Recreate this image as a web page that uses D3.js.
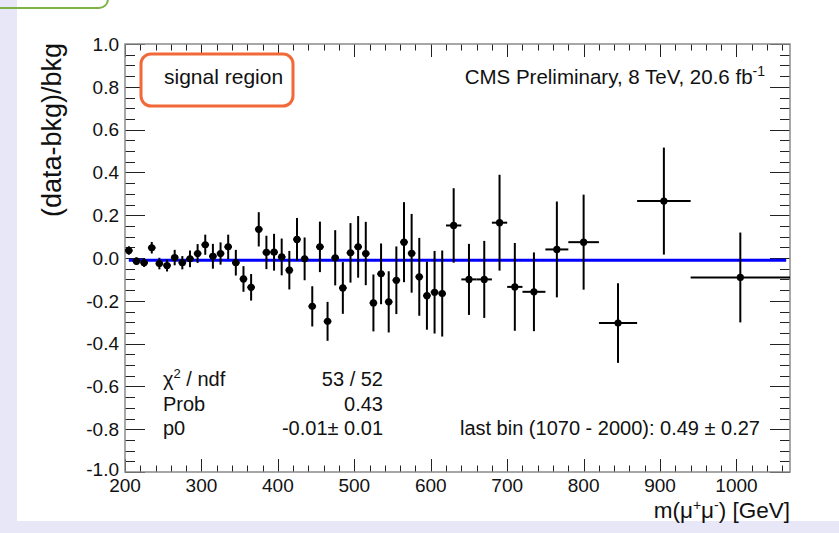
<!DOCTYPE html>
<html>
<head>
<meta charset="utf-8">
<script src="https://cdn.jsdelivr.net/npm/d3@7/dist/d3.min.js"></script>
<style>
  html, body { margin: 0; padding: 0; background: #fff; }
  svg { display: block; font-family: "Liberation Sans", Arial, Helvetica, sans-serif; }
</style>
</head>
<body>
<svg id="chart" width="839" height="533"></svg>
<script>
// ---- data ----
const binLow  = [200,210,220,230,240,250,260,270,280,290,300,310,320,330,340,350,360,370,380,390,
                 400,410,420,430,440,450,460,470,480,490,500,510,520,530,540,550,560,570,580,590,
                 600,610,620,640,660,680,700,720,750,780,820,870,940];
const binHigh = [210,220,230,240,250,260,270,280,290,300,310,320,330,340,350,360,370,380,390,400,
                 410,420,430,440,450,460,470,480,490,500,510,520,530,540,550,560,570,580,590,600,
                 610,620,640,660,680,700,720,750,780,820,870,940,1070];
const ratio   = [0.035,-0.015,-0.022,0.048,-0.026,-0.035,0.002,-0.022,-0.004,0.021,
                 0.062,0.008,0.021,0.052,-0.022,-0.098,-0.137,0.134,0.026,0.027,
                 0.005,-0.057,0.087,-0.004,-0.226,0.052,-0.296,0.001,-0.14,0.024,
                 0.052,0.021,-0.21,-0.074,-0.205,-0.104,0.074,0.022,-0.088,-0.176,
                 -0.16,-0.166,0.152,-0.10,-0.10,0.165,-0.135,-0.158,0.04,0.074,
                 -0.304,0.266,-0.091];
const ratioErr= [0.02,0.018,0.02,0.027,0.027,0.028,0.036,0.031,0.039,0.044,
                 0.047,0.058,0.052,0.057,0.06,0.06,0.062,0.08,0.078,0.086,
                 0.086,0.09,0.10,0.10,0.094,0.118,0.091,0.129,0.121,0.139,
                 0.144,0.148,0.133,0.142,0.143,0.158,0.187,0.184,0.182,0.159,
                 0.193,0.201,0.174,0.166,0.18,0.224,0.205,0.184,0.224,0.222,
                 0.186,0.25,0.21];
const fitP0 = -0.01;
const fitRange = [205, 1065];
const xMajorTicks = [200,300,400,500,600,700,800,900,1000];
const yMajorTicks = [1.0,0.8,0.6,0.4,0.2,0.0,-0.2,-0.4,-0.6,-0.8,-1.0];
const statNames  = ["χ² / ndf", "Prob", "p0"];
const statValues = ["53 / 52", "0.43", "-0.01± 0.01"];

// ---- layout ----
const svg = d3.select("#chart");
const L = 125, R = 790, T = 44, B = 472;
const x = d3.scaleLinear().domain([200, 1070]).range([L, R]);
const y = d3.scaleLinear().domain([-1, 1]).range([B, T]);

// slide decorations
svg.append("rect").attr("x",0).attr("y",0).attr("width",839).attr("height",533).attr("fill","#e7e7f8");
svg.append("rect").attr("x",17).attr("y",0).attr("width",822).attr("height",521).attr("fill","#ffffff");
svg.append("rect").attr("x",-20).attr("y",-20).attr("width",128).attr("height",28).attr("rx",9)
   .attr("fill","none").attr("stroke","#7cb342").attr("stroke-width",2);

// ticks
const g = svg.append("g");
const tickCol = "#222";
const yMinor = d3.range(-1, 1.0001, 0.05);
yMinor.forEach(v => {
  const major = Math.abs(Math.round(v*5) - v*5) < 1e-6;
  const len = major ? 20 : 10;
  const yy = Math.round(y(v)) + 0.5;
  g.append("line").attr("x1",L).attr("x2",L+len).attr("y1",yy).attr("y2",yy).attr("stroke",tickCol).attr("stroke-width",1);
  g.append("line").attr("x1",R).attr("x2",R-len).attr("y1",yy).attr("y2",yy).attr("stroke",tickCol).attr("stroke-width",1);
});
const xMinor = d3.range(200, 1071, 20);
xMinor.forEach(v => {
  const major = v % 100 === 0;
  const len = major ? 13 : 6.5;
  const xx = Math.round(x(v)) + 0.5;
  g.append("line").attr("x1",xx).attr("x2",xx).attr("y1",B).attr("y2",B-len).attr("stroke",tickCol).attr("stroke-width",1);
  g.append("line").attr("x1",xx).attr("x2",xx).attr("y1",T).attr("y2",T+len).attr("stroke",tickCol).attr("stroke-width",1);
});

// frame
svg.append("rect").attr("x",L).attr("y",T).attr("width",R-L).attr("height",B-T)
   .attr("fill","none").attr("stroke","#8a8a8a").attr("stroke-width",1.5);

// tick labels
yMajorTicks.forEach(v => {
  svg.append("text").attr("x",119).attr("y",y(v) - (v === -1 ? 3 : 0)).attr("dy","0.36em")
     .attr("text-anchor","end").attr("font-size",19).attr("fill","#111")
     .text(v.toFixed(1));
});
xMajorTicks.forEach(v => {
  svg.append("text").attr("x",x(v)).attr("y",492)
     .attr("text-anchor","middle").attr("font-size",19).attr("fill","#111")
     .text(v);
});

// axis titles
svg.append("text").attr("transform","translate(61,43) rotate(-90)")
   .attr("text-anchor","end").attr("font-size",27).attr("fill","#111")
   .text("(data-bkg)/bkg");
const xt = svg.append("text").attr("x",R).attr("y",518).attr("text-anchor","end")
   .attr("font-size",22.5).attr("fill","#111");
xt.append("tspan").text("m(μ");
xt.append("tspan").attr("dy",-8).attr("font-size",14).text("+");
xt.append("tspan").attr("dy",8).text("μ");
xt.append("tspan").attr("dy",-8).attr("font-size",14).text("-");
xt.append("tspan").attr("dy",8).text(") [GeV]");

// fit line
svg.append("line").attr("x1",x(fitRange[0])).attr("x2",x(fitRange[1]))
   .attr("y1",y(fitP0)).attr("y2",y(fitP0)).attr("stroke","#0000ff").attr("stroke-width",3);

// data points
const pts = binLow.map((lo,i) => ({lo, hi: binHigh[i], v: ratio[i], e: ratioErr[i]}));
const pg = svg.append("g");
pts.forEach(p => {
  const cx = x((p.lo + p.hi)/2);
  pg.append("line").attr("x1",x(p.lo)).attr("x2",x(p.hi)).attr("y1",y(p.v)).attr("y2",y(p.v))
    .attr("stroke","#000").attr("stroke-width",2);
  pg.append("line").attr("x1",cx).attr("x2",cx).attr("y1",y(p.v - p.e)).attr("y2",y(p.v + p.e))
    .attr("stroke","#000").attr("stroke-width",2);
});
pg.selectAll("circle").data(pts).join("circle")
  .attr("cx", p => x((p.lo + p.hi)/2)).attr("cy", p => y(p.v)).attr("r",3.6).attr("fill","#000");

// signal region box
svg.append("rect").attr("x",141).attr("y",54).attr("width",152).attr("height",52).attr("rx",10)
   .attr("fill","#fff").attr("stroke","#f26838").attr("stroke-width",3);
svg.append("text").attr("x",164).attr("y",84).attr("font-size",21).attr("fill","#111").text("signal region");

// CMS label
const cms = svg.append("text").attr("x",765).attr("y",84).attr("text-anchor","end")
   .attr("font-size",20.5).attr("fill","#111");
cms.append("tspan").text("CMS Preliminary, 8 TeV, 20.6 fb");
cms.append("tspan").attr("dy",-8).attr("font-size",14).text("-1");

// stats
statNames.forEach((n,i) => {
  const yy = 386 + i*24.5;
  const t = svg.append("text").attr("x",163).attr("y",yy).attr("font-size",20).attr("fill","#111");
  if (i === 0) {
    t.append("tspan").text("χ");
    t.append("tspan").attr("dy",-8).attr("font-size",13).text("2");
    t.append("tspan").attr("dy",8).text(" / ndf");
  } else t.text(n);
  svg.append("text").attr("x",383).attr("y",yy).attr("text-anchor","end").attr("font-size",20)
     .attr("fill","#111").text(statValues[i]);
});
svg.append("text").attr("x",760).attr("y",435).attr("text-anchor","end").attr("font-size",20)
   .attr("fill","#111").text("last bin (1070 - 2000): 0.49 ± 0.27");
</script>
</body>
</html>
